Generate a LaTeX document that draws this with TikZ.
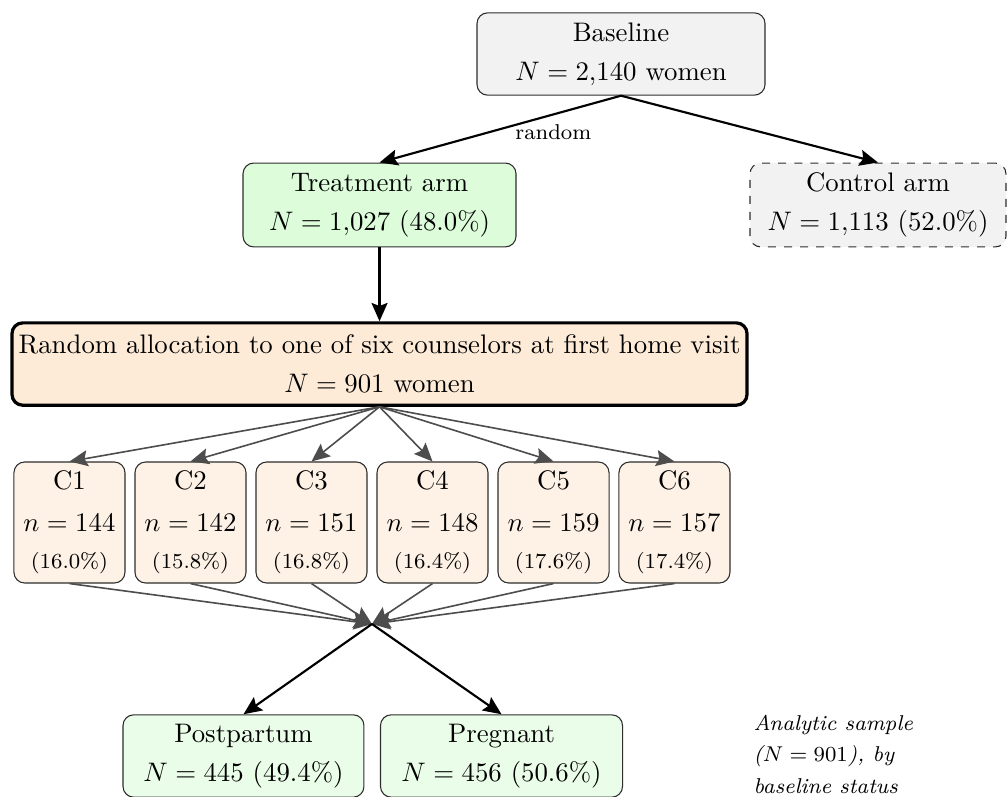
\documentclass[tikz,border=0pt]{standalone}
\usepackage{tikz}
\usetikzlibrary{arrows.meta,positioning}
\definecolor{ink}{RGB}{45,45,45}
\definecolor{shade}{RGB}{242,242,242}
\definecolor{mint}{RGB}{220,252,218}
\definecolor{mintlt}{RGB}{234,253,232}
\definecolor{peach}{RGB}{253,235,216}
\definecolor{peachlt}{RGB}{254,242,230}
\definecolor{wire}{RGB}{77,77,77}
\tikzset{
  >={Stealth[length=2.4mm,width=2.1mm,inset=0.4mm]},
  box/.style={draw=ink,fill=#1,rounded corners=4pt,align=center,
    minimum height=10.8mm,inner sep=2pt},
  box/.default=shade,
  cbox/.style={draw=ink,fill=peachlt,rounded corners=4pt,align=center,
    minimum width=14.56mm,minimum height=15.87mm,inner sep=1pt},
  flow/.style={->,thick,draw=black},
  fan/.style={->,semithick,draw=wire},
  note/.style={font=\footnotesize\itshape,align=left,inner sep=0pt},
}
\begin{document}
\begin{tikzpicture}
  \useasboundingbox (0,0) rectangle (13.206,-10.439);
  \node[box,minimum width=37.77mm] (base) at (8.144,-0.708) {Baseline\\[2.5pt]$N = 2{,}140$ women};
  \node[box=mint,minimum width=35.8mm,minimum height=11mm] (treat) at (4.977,-2.688) {Treatment arm\\[2.5pt]$N = 1{,}027$ (48.0\%)};
  \node[box,dashed,minimum width=33.57mm,minimum height=11mm] (ctrl) at (11.514,-2.688) {Control arm\\[2.5pt]$N = 1{,}113$ (52.0\%)};
  \draw[flow] (base.south) -- node[pos=0.28,below,font=\footnotesize] {random} (treat.north);
  \draw[flow] (base.south) -- (ctrl.north);
  \node[box=peach,very thick,draw=black,minimum width=96.39mm] (alloc) at (4.977,-4.774) {Random allocation to one of six counselors at first home visit\\[2.5pt]$N = 901$ women};
  \draw[flow] (treat) -- (alloc);
  \coordinate (merge) at (4.878,-8.183);
  \foreach \cn/\cx/\cv/\cp in {1/0.911/144/16.0,2/2.498/142/15.8,3/4.085/151/16.8,
      4/5.672/148/16.4,5/7.259/159/17.6,6/8.845/157/17.4} {
    \node[cbox] (c\cn) at (\cx,-6.852) {C\cn\\[3.5pt]$n = \cv$\\[2pt]{\footnotesize(\cp\%)}};
    \draw[fan] (alloc.south) -- (c\cn.north);
    \draw[fan] (c\cn.south) -- (merge);
  }
  \node[box=mintlt,minimum width=31.6mm] (post) at (3.193,-9.914) {Postpartum\\[2.5pt]$N = 445$ (49.4\%)};
  \node[box=mintlt,minimum width=31.74mm] (preg) at (6.577,-9.914) {Pregnant\\[2.5pt]$N = 456$ (50.6\%)};
  \draw[flow] (merge) -- (post.north);
  \draw[flow] (merge) -- (preg.north);
  \node[note,anchor=west] (lbl) at (9.875,-9.89) {Analytic sample\\[2.2pt]($N = 901$), by\\[2.2pt]baseline status};
\end{tikzpicture}
\end{document}
